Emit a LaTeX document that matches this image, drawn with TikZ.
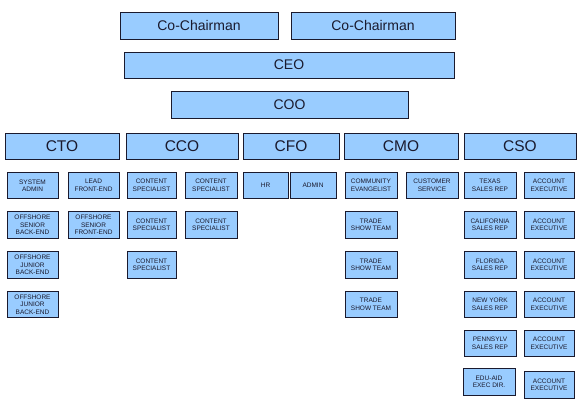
\documentclass[tikz,border=0pt]{standalone}
\usepackage{fontspec}
\setmainfont{Liberation Sans}
\definecolor{boxfill}{HTML}{99CCFF}
\definecolor{boxline}{HTML}{1A1A2E}
\begin{document}
\begin{tikzpicture}[x=1pt,y=-1pt,
  box/.style={draw=boxline,line width=0.9pt,fill=boxfill,inner sep=0pt,align=center,text=boxline},
  big/.style={box,font=\fontsize{14}{16}\selectfont},
  head/.style={box,font=\fontsize{15.5}{17}\selectfont},
  small/.style={box,minimum height=26.5pt,font=\fontsize{6.5}{7.5}\selectfont}]
\useasboundingbox (0,0) rectangle (580,412);
\fill[white] (0,0) rectangle (580,412);
% top
\node[big,minimum width=158pt,minimum height=27pt] (cc1) at (199,25.5) {Co-Chairman};
\node[big,minimum width=164pt,minimum height=27pt] (cc2) at (373,25.5) {Co-Chairman};
\node[big,minimum width=330pt,minimum height=26pt] (ceo) at (289,65) {CEO};
\node[big,minimum width=237pt,minimum height=27pt] (coo) at (289.5,104.5) {COO};
% heads
\node[head,minimum width=114pt,minimum height=26pt] (cto) at (62,146) {CTO};
\node[head,minimum width=112pt,minimum height=26pt] (cco) at (182,146) {CCO};
\node[head,minimum width=96pt,minimum height=26pt] (cfo) at (291,146) {CFO};
\node[head,minimum width=114pt,minimum height=26pt] (cmo) at (401,146) {CMO};
\node[head,minimum width=112pt,minimum height=26pt] (cso) at (520,146) {CSO};
% CTO
\node[small,minimum width=51pt] (t1a) at (32.5,185.5) {SYSTEM\\ADMIN};
\node[small,minimum width=51pt] (t1b) at (93.5,185.5) {LEAD\\FRONT-END};
\node[small,minimum width=51pt] (t2a) at (32.5,225) {OFFSHORE\\SENIOR\\BACK-END};
\node[small,minimum width=51pt] (t2b) at (93.5,225) {OFFSHORE\\SENIOR\\FRONT-END};
\node[small,minimum width=51pt] (t3a) at (32.5,265) {OFFSHORE\\JUNIOR\\BACK-END};
\node[small,minimum width=51pt] (t4a) at (32.5,304.5) {OFFSHORE\\JUNIOR\\BACK-END};
% CCO
\node[small,minimum width=49pt] (c1a) at (151.5,185.5) {CONTENT\\SPECIALIST};
\node[small,minimum width=52pt] (c1b) at (211,185.5) {CONTENT\\SPECIALIST};
\node[small,minimum width=49pt] (c2a) at (151.5,225) {CONTENT\\SPECIALIST};
\node[small,minimum width=52pt] (c2b) at (211,225) {CONTENT\\SPECIALIST};
\node[small,minimum width=49pt] (c3a) at (151.5,265) {CONTENT\\SPECIALIST};
% CFO
\node[small,minimum width=45pt] (hr) at (265.5,185.5) {HR};
\node[small,minimum width=46pt] (adm) at (313,185.5) {ADMIN};
% CMO
\node[small,minimum width=52pt] (m1a) at (371,185.5) {COMMUNITY\\EVANGELIST};
\node[small,minimum width=52pt] (m1b) at (432,185.5) {CUSTOMER\\SERVICE};
\node[small,minimum width=52pt] (m2a) at (371,225) {TRADE\\SHOW TEAM};
\node[small,minimum width=52pt] (m3a) at (371,265) {TRADE\\SHOW TEAM};
\node[small,minimum width=52pt] (m4a) at (371,304.5) {TRADE\\SHOW TEAM};
% CSO
\node[small,minimum width=52pt] (s1a) at (490,185.5) {TEXAS\\SALES REP};
\node[small,minimum width=50pt] (s1b) at (549,185.5) {ACCOUNT\\EXECUTIVE};
\node[small,minimum width=52pt] (s2a) at (490,225) {CALIFORNIA\\SALES REP};
\node[small,minimum width=50pt] (s2b) at (549,225) {ACCOUNT\\EXECUTIVE};
\node[small,minimum width=52pt] (s3a) at (490,265) {FLORIDA\\SALES REP};
\node[small,minimum width=50pt] (s3b) at (549,265) {ACCOUNT\\EXECUTIVE};
\node[small,minimum width=52pt] (s4a) at (490,304.5) {NEW YORK\\SALES REP};
\node[small,minimum width=50pt] (s4b) at (549,304.5) {ACCOUNT\\EXECUTIVE};
\node[small,minimum width=52pt] (s5a) at (490,343.5) {PENNSYLV\\SALES REP};
\node[small,minimum width=50pt] (s5b) at (549,343.5) {ACCOUNT\\EXECUTIVE};
\node[small,minimum width=52pt] (s6a) at (489,382) {EDU-AID\\EXEC DIR.};
\node[small,minimum width=50pt] (s6b) at (549,385) {ACCOUNT\\EXECUTIVE};
\end{tikzpicture}
\end{document}
